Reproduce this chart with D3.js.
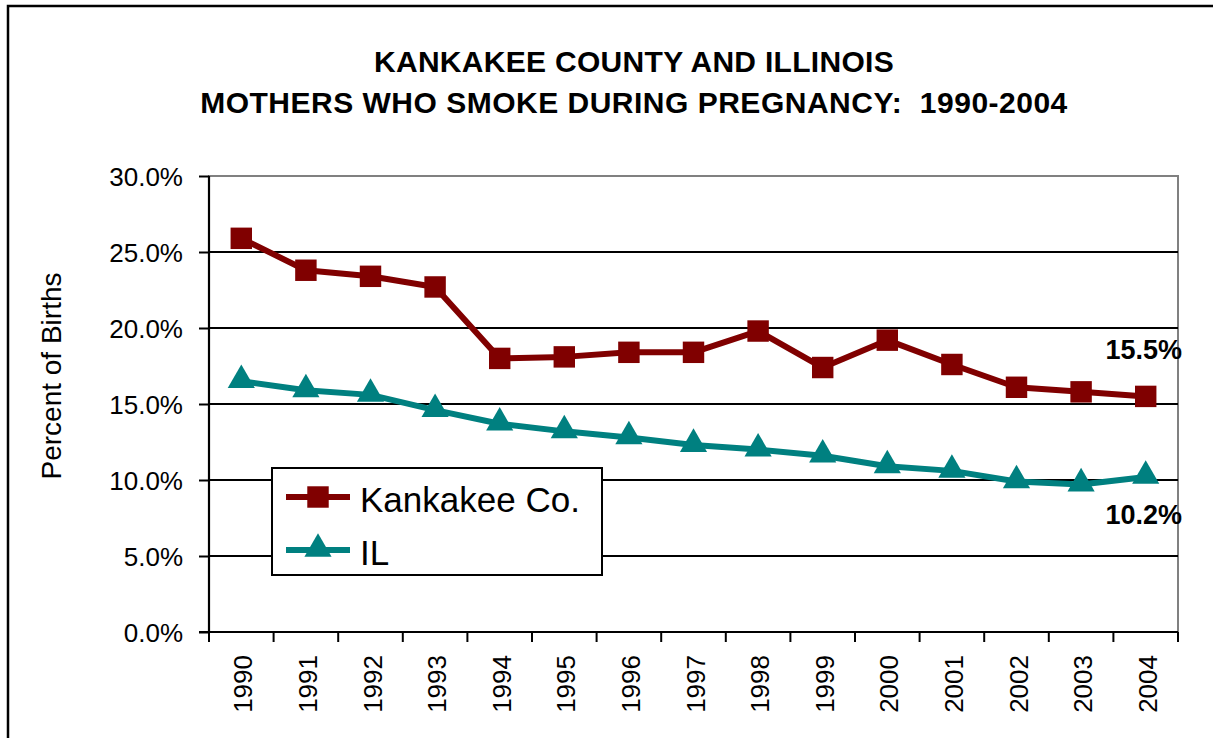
<!DOCTYPE html>
<html>
<head>
<meta charset="utf-8">
<script src="https://cdn.jsdelivr.net/npm/d3@7"></script>
<style>
  html, body { margin: 0; padding: 0; background: #fff; }
  svg { display: block; }
  text { font-family: "Liberation Sans", Arial, sans-serif; fill: #000; white-space: pre; }
</style>
</head>
<body>
<svg id="chart" width="1213" height="738"></svg>
<script>
// Years on the category axis
const years = ["1990","1991","1992","1993","1994","1995","1996","1997","1998","1999","2000","2001","2002","2003","2004"];
// Percent of births to mothers who smoked during pregnancy
const kankakee = [25.9, 23.8, 23.4, 22.7, 18.0, 18.1, 18.4, 18.4, 19.8, 17.4, 19.2, 17.6, 16.1, 15.8, 15.5];
const illinois = [16.5, 15.9, 15.6, 14.6, 13.7, 13.2, 12.8, 12.3, 12.0, 11.6, 10.9, 10.6, 9.9, 9.7, 10.2];
// Value-axis ticks
const yTicks = [0, 5, 10, 15, 20, 25, 30];
const seriesNames = ["Kankakee Co.", "IL"];
const titleLines = ["KANKAKEE COUNTY AND ILLINOIS", "MOTHERS WHO SMOKE DURING PREGNANCY:  1990-2004"];
const yTitle = "Percent of Births";

const svg = d3.select("#chart");
const plot = { left: 209, right: 1178, top: 176, bottom: 632 };

const x = d3.scaleBand().domain(years).range([plot.left, plot.right]).paddingInner(0).paddingOuter(0);
const y = d3.scaleLinear().domain([0, 30]).range([plot.bottom, plot.top]);
const cx = d => x(d) + x.bandwidth() / 2;

// Outer frame (runs past the right and bottom edges)
svg.append("rect").attr("x", 8).attr("y", 6).attr("width", 1400).attr("height", 1000)
  .attr("fill", "#fff").attr("stroke", "#000").attr("stroke-width", 2.5);

// Title
svg.append("g").selectAll("text").data(titleLines).join("text")
  .attr("x", 634).attr("y", (d, i) => 72 + i * 41)
  .attr("text-anchor", "middle")
  .attr("font-size", 30).attr("font-weight", "bold")
  .attr("letter-spacing", (d, i) => i === 0 ? 0.3 : 0.5)
  .text(d => d);

// Plot-area border (gray) and horizontal gridlines (black)
svg.append("rect").attr("x", plot.left).attr("y", plot.top)
  .attr("width", plot.right - plot.left).attr("height", plot.bottom - plot.top)
  .attr("fill", "none").attr("stroke", "#808080").attr("stroke-width", 2);
svg.append("g").selectAll("line").data(yTicks.filter(t => t > 0 && t < 30)).join("line")
  .attr("x1", plot.left).attr("x2", plot.right)
  .attr("y1", d => y(d)).attr("y2", d => y(d))
  .attr("stroke", "#000").attr("stroke-width", 2);

// Value axis
const yAxis = svg.append("g").attr("transform", `translate(${plot.left},0)`)
  .call(d3.axisLeft(y).tickValues(yTicks).tickFormat(d => d.toFixed(1) + "%").tickSize(10).tickPadding(16));
yAxis.select(".domain").attr("stroke", "#000").attr("stroke-width", 2.2).attr("d", `M0,${plot.top}V${plot.bottom}`);
yAxis.selectAll(".tick line").attr("stroke", "#000").attr("stroke-width", 2);
yAxis.selectAll(".tick text").attr("font-size", 26).attr("font-family", "Liberation Sans, Arial, sans-serif").attr("fill", "#000").attr("dy", "0.35em");

// Category axis: baseline, boundary ticks, rotated year labels
const xg = svg.append("g");
xg.append("line").attr("x1", plot.left - 10).attr("x2", plot.right)
  .attr("y1", plot.bottom).attr("y2", plot.bottom).attr("stroke", "#000").attr("stroke-width", 2.2);
const bounds = years.map(d => x(d)).concat([x(years[years.length - 1]) + x.bandwidth()]);
xg.selectAll("line.tk").data(bounds).join("line").attr("class", "tk")
  .attr("x1", d => d).attr("x2", d => d)
  .attr("y1", plot.bottom).attr("y2", plot.bottom + 10)
  .attr("stroke", "#000").attr("stroke-width", 2);
xg.selectAll("text").data(years).join("text")
  .attr("transform", d => `translate(${cx(d) + 2},${plot.bottom + 23}) rotate(-90)`)
  .attr("text-anchor", "end").attr("dy", "0.35em")
  .attr("font-size", 26)
  .text(d => d);

// Value-axis title
svg.append("text")
  .attr("transform", "translate(61,376) rotate(-90)")
  .attr("text-anchor", "middle").attr("font-size", 28)
  .text(yTitle);

// Series
const series = [
  { name: seriesNames[0], values: kankakee, color: "#800000", marker: "square" },
  { name: seriesNames[1], values: illinois, color: "#008080", marker: "triangle" }
];
const line = d3.line().x((d, i) => cx(years[i])).y(d => y(d));
const squareSym = d3.symbol().type(d3.symbolSquare).size(460);
const triSym = d3.symbol().type(d3.symbolTriangle).size(320);

series.forEach(s => {
  svg.append("path").datum(s.values).attr("d", line)
    .attr("fill", "none").attr("stroke", s.color).attr("stroke-width", 6).attr("stroke-linejoin", "round");
  svg.append("g").selectAll("path").data(s.values).join("path")
    .attr("transform", (d, i) => `translate(${cx(years[i])},${y(d) + (s.marker === "triangle" ? -1 : 0)})`)
    .attr("d", s.marker === "square" ? squareSym : triSym)
    .attr("fill", s.color);
});

// Value labels on the last year
const last = years.length - 1;
svg.append("text").attr("x", cx(years[last]) - 2).attr("y", y(kankakee[last]) - 37)
  .attr("text-anchor", "middle").attr("font-size", 27).attr("font-weight", "bold")
  .text(kankakee[last].toFixed(1) + "%");
svg.append("text").attr("x", cx(years[last]) - 2).attr("y", y(illinois[last]) + 47)
  .attr("text-anchor", "middle").attr("font-size", 27).attr("font-weight", "bold")
  .text(illinois[last].toFixed(1) + "%");

// Legend
const lg = svg.append("g");
lg.append("rect").attr("x", 272).attr("y", 468).attr("width", 330).attr("height", 107)
  .attr("fill", "#fff").attr("stroke", "#000").attr("stroke-width", 2);
series.forEach((s, i) => {
  const ly = 497 + i * 53;
  lg.append("line").attr("x1", 286).attr("x2", 350).attr("y1", ly).attr("y2", ly)
    .attr("stroke", s.color).attr("stroke-width", 6);
  lg.append("path").attr("transform", `translate(318,${ly + (s.marker === "triangle" ? -1 : 0)})`)
    .attr("d", s.marker === "square" ? squareSym() : triSym()).attr("fill", s.color);
  lg.append("text").attr("x", 360).attr("y", ly + 15).attr("font-size", 35).text(s.name);
});
</script>
</body>
</html>
